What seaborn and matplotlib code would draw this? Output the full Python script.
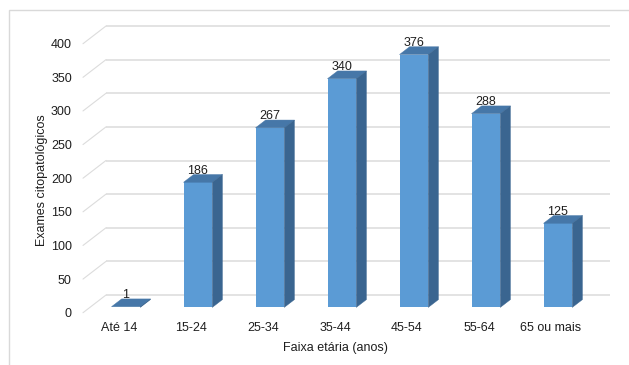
import matplotlib
matplotlib.use("Agg")
import numpy as np
import pandas as pd
import seaborn as sns
import matplotlib.pyplot as plt
from matplotlib.patches import Polygon, Rectangle

# ---- data ----
categories = ["Até 14", "15-24", "25-34", "35-44", "45-54", "55-64", "65 ou mais"]
values = [1, 186, 267, 340, 376, 288, 125]
y_ticks = [0, 50, 100, 150, 200, 250, 300, 350, 400]
x_title = "Faixa etária (anos)"
y_title = "Exames citopatológicos"

# ---- style ----
sns.set_theme(style="white")
plt.rcParams["font.family"] = ["Liberation Sans", "DejaVu Sans"]
FS = 9
TXT = "#1e1e1e"

W, H = 629, 365
fig = plt.figure(figsize=(W / 100, H / 100), dpi=100)
fig.patch.set_facecolor("white")

# front plane of the pseudo-3D chart
ax = fig.add_axes([83 / W, (H - 312.7) / H, 504 / W, 269 / H])
ax.set_facecolor("none")

df = pd.DataFrame({"faixa": categories, "exames": values})
sns.barplot(data=df, x="faixa", y="exames", color="#5b9bd5", width=0.4,
            saturation=1, ax=ax, zorder=3, linewidth=0)

ax.set_xlim(-0.5, 6.5)
ax.set_ylim(0, 400)

# depth vector (full floor depth) in data units
DX = 23 / 72.0
DY = 17.7 / (269 / 400.0)
f0, f1 = 0.30, 0.74  # bar front / back depth fractions

grid_c = "#e0e0e0"
for v in y_ticks:
    ax.plot([-0.5 + DX, 6.5 + DX], [v + DY, v + DY], color=grid_c, lw=1.3,
            zorder=1, clip_on=False, solid_capstyle="butt")
    ax.plot([-0.5, -0.5 + DX], [v, v + DY], color="#dcdcdc", lw=0.8,
            zorder=1, clip_on=False)

top_c = "#4677a8"
side_c = "#3a6590"
ddx = (f1 - f0) * DX
ddy = (f1 - f0) * DY
bars = [p for p in ax.patches if isinstance(p, Rectangle)]
for p, v in zip(bars, values):
    x0 = p.get_x() + f0 * DX
    y0 = f0 * DY
    w = p.get_width()
    h = p.get_height()
    p.set_x(x0)
    p.set_y(y0)
    p.set_linewidth(0)
    top = Polygon([(x0, y0 + h), (x0 + w, y0 + h), (x0 + w + ddx, y0 + h + ddy),
                   (x0 + ddx, y0 + h + ddy)], closed=True, facecolor=top_c,
                  edgecolor=top_c, lw=0.3, zorder=3, clip_on=False)
    side = Polygon([(x0 + w, y0), (x0 + w, y0 + h), (x0 + w + ddx, y0 + h + ddy),
                    (x0 + w + ddx, y0 + ddy)], closed=True, facecolor=side_c,
                   edgecolor=side_c, lw=0.3, zorder=3, clip_on=False)
    ax.add_patch(top)
    ax.add_patch(side)
    ax.text(x0 + w / 2, v + f1 * DY + 1, str(v), ha="center", va="baseline",
            fontsize=FS, color=TXT, zorder=5, clip_on=False)

for s in ax.spines.values():
    s.set_visible(False)
ax.set_yticks(y_ticks)
ax.set_yticklabels([str(t) for t in y_ticks])
ax.tick_params(axis="y", length=0, pad=8, labelsize=FS, labelcolor=TXT)
ax.tick_params(axis="x", length=0, pad=7, labelsize=FS, labelcolor=TXT)
ax.set_xlabel(x_title, fontsize=FS, color=TXT)
ax.set_ylabel(y_title, fontsize=FS, color=TXT)
ax.xaxis.set_label_coords(0.5, (312.7 - 342) / 269)
ax.yaxis.set_label_coords((48 - 83) / 504, (312.7 - 180) / 269)
ax.grid(False)

# outer chart border (light gray, left and top visible)
fig.add_artist(Rectangle((9 / W, -0.2), 1.5, 1.2 - 10 / H, transform=fig.transFigure,
                         fill=False, edgecolor="#d9d9d9", lw=1.0, clip_on=False))

fig.savefig("out.png", dpi=100, facecolor="white")
